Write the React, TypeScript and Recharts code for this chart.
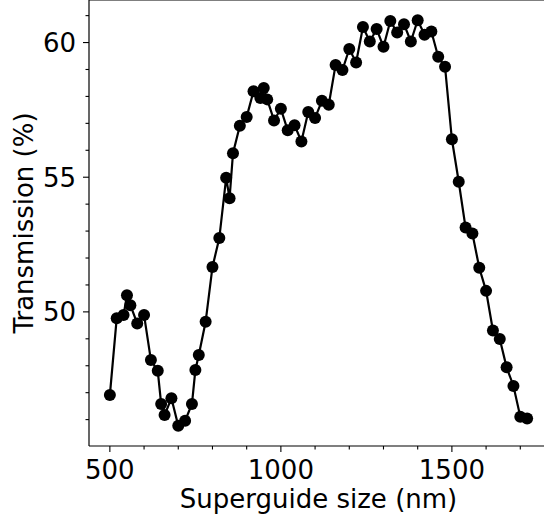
import React from "react";
import {
  LineChart,
  Line,
  XAxis,
  YAxis,
  ReferenceLine,
} from "recharts";

// superguide size (nm)
const SIZES = [
  500, 520, 540, 550, 560, 580, 600, 620, 640, 650, 660, 680, 700, 720, 740,
  750, 760, 780, 800, 820, 840, 850, 860, 880, 900, 920, 940, 950, 960, 980,
  1000, 1020, 1040, 1060, 1080, 1100, 1120, 1140, 1160, 1180, 1200, 1220,
  1240, 1260, 1280, 1300, 1320, 1340, 1360, 1380, 1400, 1420, 1440, 1460,
  1480, 1500, 1520, 1540, 1560, 1580, 1600, 1620, 1640, 1660, 1680, 1700,
  1720,
];

// transmission (%)
const TRANSMISSION = [
  46.91, 49.76, 49.88, 50.62, 50.25, 49.57, 49.88, 48.21, 47.81, 46.58, 46.17,
  46.79, 45.77, 45.96, 46.58, 47.84, 48.4, 49.63, 51.67, 52.74, 54.98, 54.22,
  55.89, 56.91, 57.24, 58.19, 57.94, 58.31, 57.89, 57.11, 57.54, 56.74, 56.93,
  56.33, 57.42, 57.2, 57.84, 57.69, 59.17, 58.98, 59.76, 59.26, 60.58, 60.04,
  60.5, 59.84, 60.8, 60.37, 60.68, 60.04, 60.83, 60.29, 60.41, 59.47, 59.1,
  56.41, 54.83, 53.13, 52.91, 51.64, 50.78, 49.31, 48.99, 47.94, 47.25, 46.11,
  46.04,
];

const X_TICKS = [500, 600, 700, 800, 900, 1000, 1100, 1200, 1300, 1400, 1500, 1600, 1700];
const Y_TICKS = [46, 47, 48, 49, 50, 51, 52, 53, 54, 55, 56, 57, 58, 59, 60, 61];

const X_DOMAIN: [number, number] = [439, 1781];
const Y_DOMAIN: [number, number] = [45.02, 61.58];

const data = SIZES.map((s, i) => ({ size: s, t: TRANSMISSION[i] }));

const FONT = "DejaVu Sans";
const FS = 26;

const XTick = (props: any) => {
  const { x, y, payload } = props;
  const major = payload.value % 500 === 0;
  return (
    <g>
      <line x1={x} x2={x} y1={y} y2={y + (major ? 6 : 3.5)} stroke="#000" strokeWidth={1.1} />
      {major && (
        <text x={x} y={y + 33} textAnchor="middle" fontFamily={FONT} fontSize={FS} fill="#000">
          {payload.value}
        </text>
      )}
    </g>
  );
};

const YTick = (props: any) => {
  const { x, y, payload } = props;
  const major = payload.value % 5 === 0;
  return (
    <g>
      <line x1={x} x2={x - (major ? 6 : 3.5)} y1={y} y2={y} stroke="#000" strokeWidth={1.1} />
      {major && (
        <text x={x - 13} y={y + 9.5} textAnchor="end" fontFamily={FONT} fontSize={FS} fill="#000">
          {payload.value}
        </text>
      )}
    </g>
  );
};

export default function App() {
  return (
    <div
      style={{
        position: "fixed",
        left: 0,
        top: 0,
        width: 544,
        height: 523,
        overflow: "hidden",
        background: "#fff",
      }}
    >
      <LineChart
        width={560}
        height={523}
        data={data}
        margin={{ top: 0, right: 12, bottom: 0, left: 0 }}
      >
        <XAxis
          dataKey="size"
          type="number"
          domain={X_DOMAIN}
          allowDataOverflow
          ticks={X_TICKS}
          interval={0}
          height={77}
          tickSize={0}
          tickMargin={0}
          tickLine={false}
          tick={<XTick />}
          axisLine={{ stroke: "#000", strokeWidth: 1.2 }}
          label={{
            content: (p: any) => {
              const vb = p.viewBox;
              return (
                <text
                  x={vb.x + vb.width / 2}
                  y={vb.y + 62}
                  textAnchor="middle"
                  fontFamily={FONT}
                  fontSize={FS}
                  fill="#000"
                >
                  Superguide size (nm)
                </text>
              );
            },
          }}
        />
        <YAxis
          type="number"
          domain={Y_DOMAIN}
          allowDataOverflow
          ticks={Y_TICKS}
          interval={0}
          width={89}
          tickSize={0}
          tickMargin={0}
          tickLine={false}
          tick={<YTick />}
          axisLine={{ stroke: "#000", strokeWidth: 1.2 }}
          label={{
            content: (p: any) => {
              const vb = p.viewBox;
              const cy = vb.y + vb.height / 2;
              return (
                <text
                  x={33}
                  y={cy}
                  transform={`rotate(-90, 33, ${cy})`}
                  textAnchor="middle"
                  fontFamily={FONT}
                  fontSize={FS}
                  fill="#000"
                >
                  Transmission (%)
                </text>
              );
            },
          }}
        />
        <ReferenceLine y={Y_DOMAIN[1]} stroke="#000" strokeWidth={1.2} />
        <Line
          type="linear"
          dataKey="t"
          stroke="#000"
          strokeWidth={2.2}
          dot={{ r: 6, fill: "#000", stroke: "none" }}
          activeDot={false}
          isAnimationActive={false}
        />
      </LineChart>
    </div>
  );
}
